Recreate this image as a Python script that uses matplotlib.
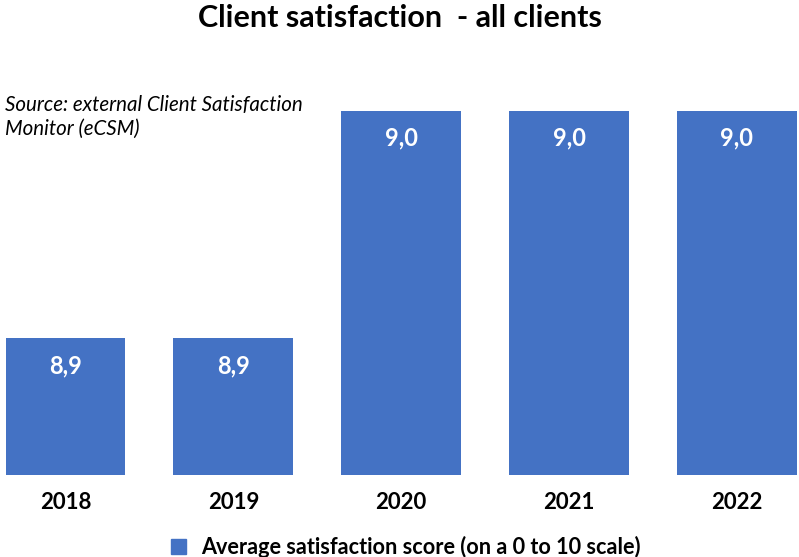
import matplotlib
matplotlib.use("Agg")
import matplotlib.pyplot as plt
from matplotlib.patches import Patch

years = ["2018", "2019", "2020", "2021", "2022"]
scores = [8.9, 8.9, 9.0, 9.0, 9.0]

title = "Client satisfaction  - all clients"
source = "Source: external Client Satisfaction\nMonitor (eCSM)"
series_name = "Average satisfaction score (on a 0 to 10 scale)"
bar_color = "#4472C4"

plt.rcParams["font.family"] = ["Lato", "DejaVu Sans"]

fig = plt.figure(figsize=(7.99, 5.57), dpi=100)
ax = fig.add_axes([0.0, 0.1472, 1.0, 0.7451])

x = list(range(len(years)))
bars = ax.bar(x, scores, width=0.714, color=bar_color)

# value labels sit inside the top of each bar
for xi, v in zip(x, scores):
    ax.annotate(f"{v:.1f}".replace(".", ","), (xi, v), xytext=(0, -19.5),
                textcoords="offset points", ha="center", va="center",
                color="white", fontsize=17, fontweight="bold")

ax.set_xlim(-0.39, 4.37)
ax.set_ylim(8.84, 9.0223)
ax.set_xticks(x)
ax.set_xticklabels(years, fontsize=16, fontweight="bold")
ax.tick_params(axis="x", length=0, pad=12)
ax.set_yticks([])
for s in ax.spines.values():
    s.set_visible(False)

fig.text(0.5, 0.967, title, ha="center", va="center", fontsize=22, fontweight="bold")
fig.text(0.006, 0.79, source, ha="left", va="center", fontsize=14.8,
         style="italic", linespacing=1.3)

fig.legend(handles=[Patch(color=bar_color, label=series_name)],
           loc="center", bbox_to_anchor=(0.508, 0.018), frameon=False,
           prop={"size": 15.6, "weight": "bold"},
           handlelength=0.7, handleheight=0.7, handletextpad=0.7)

fig.savefig("out.png", dpi=100)
